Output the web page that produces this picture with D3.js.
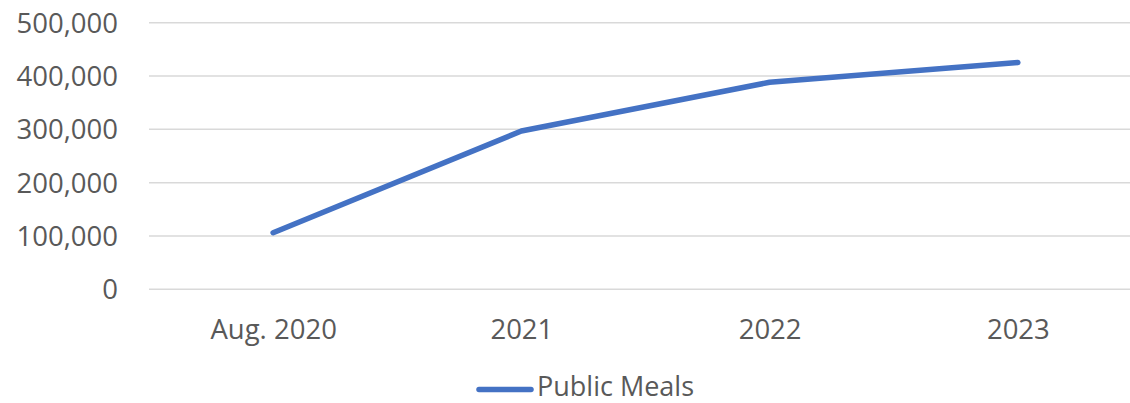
<!DOCTYPE html>
<html>
<head>
<meta charset="utf-8">
<script src="https://cdn.jsdelivr.net/npm/d3@7"></script>
<style>
  html, body { margin: 0; padding: 0; background: #fff; }
  svg { display: block; }
  text { font-family: "Open Sans", sans-serif; fill: #595959; }
</style>
</head>
<body>
<svg id="chart" width="1130" height="403"></svg>
<script>
const categories = ["Aug. 2020", "2021", "2022", "2023"];
const publicMeals = [105000, 296000, 387500, 424500];
const yTicks = [0, 100000, 200000, 300000, 400000, 500000];
const seriesName = "Public Meals";

const svg = d3.select("#chart");
const plotLeft = 149, plotRight = 1142, plotTop = 22.3, plotBottom = 288.7;

const x = d3.scalePoint().domain(categories).range([plotLeft, plotRight]).padding(0.5);
const y = d3.scaleLinear().domain([0, 500000]).range([plotBottom, plotTop]);
const fmt = d3.format(",");

// gridlines + y labels
const yAxis = d3.axisLeft(y).tickValues(yTicks).tickSize(-(1130 - plotLeft)).tickFormat(fmt).tickPadding(31);
const gy = svg.append("g").attr("transform", `translate(${plotLeft},0)`).call(yAxis);
gy.select(".domain").remove();
gy.selectAll(".tick line").attr("stroke", "#d9d9d9").attr("stroke-width", 1.5);
gy.selectAll(".tick text")
  .attr("font-size", 27.5)
  .attr("font-family", "Open Sans, sans-serif")
  .attr("fill", "#595959")
  .attr("dy", "0.36em");

// x axis labels
const xAxis = d3.axisBottom(x).tickSize(0).tickPadding(0);
const gx = svg.append("g").attr("transform", `translate(0,${plotBottom})`).call(xAxis);
gx.select(".domain").remove();
gx.selectAll(".tick text")
  .attr("font-size", 27.5)
  .attr("font-family", "Open Sans, sans-serif")
  .attr("fill", "#595959")
  .attr("dy", null)
  .attr("y", 50.5);

// line
const line = d3.line().x((d, i) => x(categories[i])).y(d => y(d));
svg.append("path")
  .datum(publicMeals)
  .attr("d", line)
  .attr("fill", "none")
  .attr("stroke", "#4472C4")
  .attr("stroke-width", 5.5)
  .attr("stroke-linecap", "round")
  .attr("stroke-linejoin", "round");

// legend
const lg = svg.append("g");
lg.append("line")
  .attr("x1", 479).attr("x2", 531).attr("y1", 389.5).attr("y2", 389.5)
  .attr("stroke", "#4472C4").attr("stroke-width", 5.5).attr("stroke-linecap", "round");
lg.append("text")
  .attr("x", 537).attr("y", 396)
  .attr("font-size", 27)
  .text(seriesName);
</script>
</body>
</html>
